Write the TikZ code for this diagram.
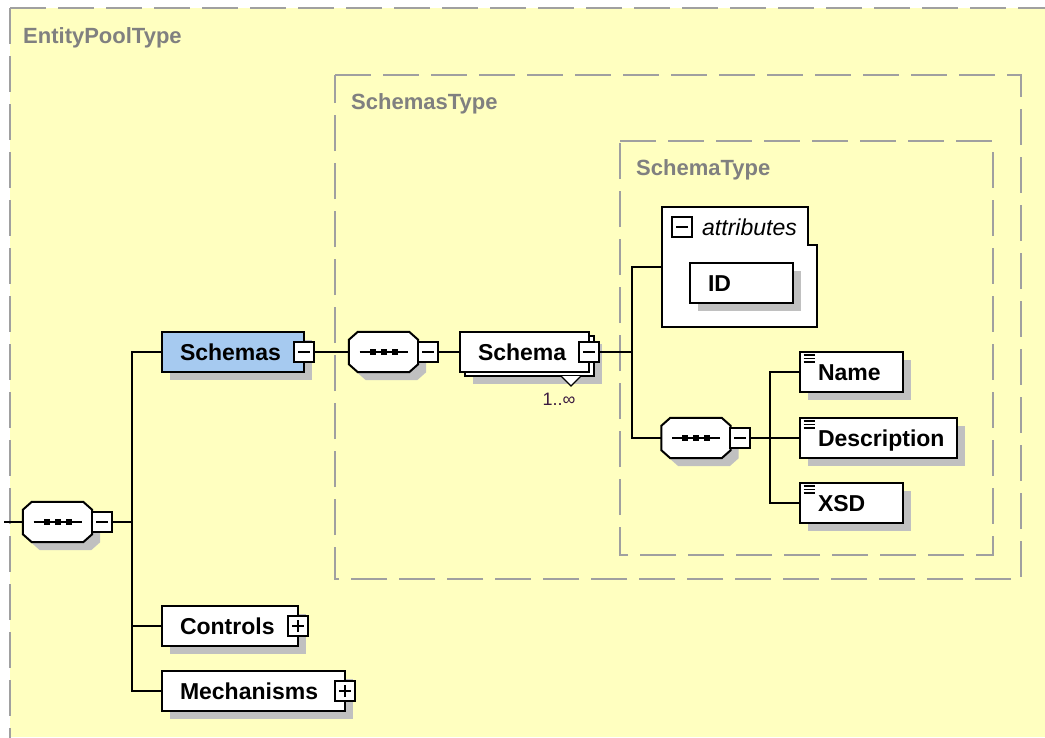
\documentclass[tikz,border=0pt]{standalone}
\usepackage{fontspec}
\setmainfont{Liberation Sans}
\usetikzlibrary{calc}
\definecolor{bgyellow}{HTML}{FFFFC0}
\definecolor{dashgray}{HTML}{A0A0A0}
\definecolor{lblgray}{HTML}{808080}
\definecolor{shadowgray}{HTML}{C0C0C0}
\definecolor{selblue}{HTML}{A6CAF0}
\definecolor{occcolor}{HTML}{3A1A40}
\newcommand\myoctpath[1]{([xshift=9pt]#1.north west) -- ([xshift=-9pt]#1.north east) -- ([yshift=-8pt]#1.north east)
  -- ([yshift=8pt]#1.south east) -- ([xshift=-9pt]#1.south east) -- ([xshift=9pt]#1.south west)
  -- ([yshift=8pt]#1.south west) -- ([yshift=-8pt]#1.north west) -- cycle}
\newcommand\myseqcomp[3]{%
  \node[seqanchor] (#1) at (#2,#3) {};
  \fill[shadowgray,transform canvas={shift={(8pt,-8pt)}}] \myoctpath{#1};
  \draw[line width=2pt,fill=white] \myoctpath{#1};
  \draw[line width=2pt] ([xshift=-24pt]#1.center) -- ([xshift=24pt]#1.center);
  \foreach \dx in {-11,0,11}
    \fill[black] ([xshift=\dx pt-3pt,yshift=-3pt]#1.center) rectangle ([xshift=\dx pt+3pt,yshift=3pt]#1.center);
}
\begin{document}
\begin{tikzpicture}[x=1pt,y=-1pt,
  conn/.style={draw=black,line width=2pt},
  dashbox/.style={draw=dashgray,line width=2pt,dash pattern=on 36pt off 12pt},
  typelbl/.style={anchor=west,text=lblgray,font=\fontsize{22}{26}\selectfont\bfseries,inner sep=0pt},
  shad/.style={preaction={fill=shadowgray,draw=none,transform canvas={shift={(8pt,-8pt)}}}},
  elembase/.style={draw=black,line width=2pt,fill=white,minimum height=40pt,inner xsep=18pt,inner ysep=0pt,
    align=left,text height=16pt,text depth=0pt,font=\fontsize{23}{27}\selectfont\bfseries},
  elem/.style={elembase,shad},
  simple/.style={path picture={
    \foreach \dy in {3,6.5,10}
      \draw[black,line width=1.4pt] ([xshift=3.5pt,yshift=-\dy pt]path picture bounding box.north west) -- ++(11pt,0pt);}},
  seqanchor/.style={rectangle,minimum width=69pt,minimum height=40pt,inner sep=0pt,draw=none,fill=none},
  pmbox/.style={draw=black,line width=2pt,fill=white,minimum width=20pt,minimum height=20pt,inner sep=0pt},
  minus/.style={pmbox,path picture={
    \draw[black,line width=2pt] ([xshift=-6pt]path picture bounding box.center) -- ([xshift=6pt]path picture bounding box.center);}},
  plus/.style={pmbox,path picture={
    \draw[black,line width=2pt] ([xshift=-6pt]path picture bounding box.center) -- ([xshift=6pt]path picture bounding box.center);
    \draw[black,line width=2pt] ([yshift=-6pt]path picture bounding box.center) -- ([yshift=6pt]path picture bounding box.center);}}
]
\useasboundingbox (0,0) rectangle (1045,737);
\fill[white] (0,0) rectangle (1045,737);
\fill[bgyellow] (10,8) rectangle (1045,737);
\draw[dashbox] (10,8) -- (1050,8);
\draw[dashbox] (10,8) -- (10,745);
\draw[dashbox] (335,75) -- (1021,75) -- (1021,579) -- (335,579) -- cycle;
\draw[dashbox] (620,141) -- (993,141) -- (993,555) -- (620,555) -- cycle;

\node[typelbl] (lblpool) at (23,38) {EntityPoolType};
\node[typelbl] (lblschemas) at (351,103.5) {SchemasType};
\node[typelbl] (lblschema) at (636,169.5) {SchemaType};

% coordinates of branches
\coordinate (in) at (4,522);
\coordinate (trunk) at (132,522);
\coordinate (branch2) at (632,352);
\coordinate (branch3) at (770,438);

% left sequence
\myseqcomp{seq1}{57.5}{522}
\node[minus] (m1) at (102,522) {};
\draw[conn] (in) -- (seq1.west);
\draw[conn] (m1.east) -- (trunk);

% children of EntityPool
\node[elem,fill=selblue,text width=106pt] (schemas) at (233,352) {Schemas};
\node[minus] (m2) at (304,352) {};
\node[elem,text width=100pt] (controls) at (230,626) {Controls};
\node[plus] (p1) at (298,626) {};
\node[elem,text width=147pt] (mech) at (253.5,691) {Mechanisms};
\node[plus] (p2) at (345,691) {};
\draw[conn] (schemas.west) -| (trunk) |- (mech.west);
\draw[conn] (controls.west) -- (controls.west -| trunk);

% SchemasType content
\myseqcomp{seq2}{383.5}{352}
\node[minus] (m3) at (428,352) {};
\draw[conn] (m2.east) -- (seq2.west);
\node[elem,minimum width=129pt] (schemaback) at (529.5,356) {};
\filldraw[fill=white,draw=black,line width=1.3pt] (561,376) -- (571,386) -- (581,376);
\node[elembase,text width=93pt] (schema) at (524.5,352) {Schema};
\node[minus] (m4) at (589,352) {};
\draw[conn] (m3.east) -- (schema.west);
\node[font=\fontsize{18}{20}\selectfont,text=occcolor,inner sep=0pt] (occ) at (559,399) {1..∞};
\draw[conn] (m4.east) -- (branch2);

% attributes
\node[minimum width=155pt,minimum height=120pt,inner sep=0pt] (attrs) at (739.5,267) {};
\draw[line width=2pt,fill=white] (attrs.north west) -- ([xshift=-9pt]attrs.north east)
  -- ([xshift=-9pt,yshift=-38pt]attrs.north east) -- ([yshift=-38pt]attrs.north east)
  -- (attrs.south east) -- (attrs.south west) -- cycle;
\node[minus] (m5) at (682,227) {};
\node[anchor=west,inner sep=0pt,font=\fontsize{23}{27}\selectfont\itshape] (attrlbl) at (702,227) {attributes};
\node[elem,text width=67pt] (id) at (741.5,283) {ID};

% inner sequence
\myseqcomp{seq3}{696}{438}
\node[minus] (m6) at (740,438) {};
\draw[conn] (attrs.west) -| (branch2) |- (seq3.west);

\node[elem,simple,text width=67pt] (name) at (851.5,372) {Name};
\node[elem,simple,text width=121pt] (descr) at (878.5,438) {Description};
\node[elem,simple,text width=67pt] (xsd) at (851.5,503) {XSD};
\draw[conn] (m6.east) -- (descr.west);
\draw[conn] (name.west) -| (branch3) |- (xsd.west);
\end{tikzpicture}
\end{document}
